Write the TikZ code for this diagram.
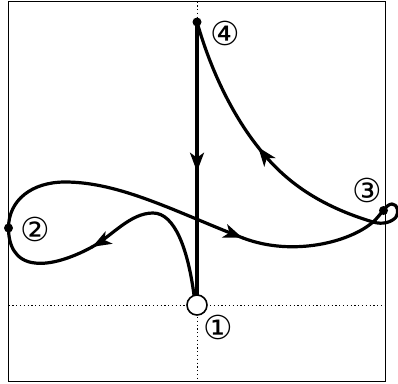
\documentclass[tikz,border=0pt]{standalone}
\usepackage{fontspec}
\newfontfamily\dv{DejaVu Sans}
\usetikzlibrary{decorations.markings,arrows.meta}
\tikzset{
  frameline/.style={line width=0.9pt},
  guide/.style={line width=0.8pt, dash pattern=on 1.2pt off 2.6pt},
  curve/.style={line width=3.2pt, line cap=round, line join=round},
  tipend/.style={postaction={decorate, decoration={markings,
     mark=at position 0.998 with {\arrow{Stealth[length=19pt,width=14pt,inset=5pt]}}}}},
  blackdot/.style={circle, fill=black, inner sep=0pt, minimum size=9pt},
  opendot/.style={circle, draw=black, fill=white, line width=1.6pt, inner sep=0pt, minimum size=20pt},
  lbl/.style={font=\dv\fontsize{33}{33}\selectfont, inner sep=0pt}
}
\begin{document}
\begin{tikzpicture}[x=1pt,y=-1pt]
\useasboundingbox (0,0) rectangle (398,383);
% frame and guides
\draw[frameline] (8.5,1.5) rectangle (385,381);
\coordinate (gl) at (8.5,305);
\coordinate (gr) at (385,305);
\coordinate (gt) at (197,1.5);
\coordinate (gb) at (197,381);
\draw[guide] (gl) -- (gr);
\draw[guide] (gt) -- (gb);
% key points
\coordinate (c1) at (197,305);
\coordinate (s1) at (194,295);
\coordinate (c2) at (8.5,228);
\coordinate (c3) at (383.5,210.5);
\coordinate (c4) at (197,22);
\coordinate (x3) at (373,222);
\coordinate (a1) at (92,247);
\coordinate (a2) at (243,238);
\coordinate (a3) at (258,147);
\coordinate (a4) at (197,172);
\coordinate (e1) at (197,296);
% 1 -> 2 (arrow on the way)
\draw[curve, tipend] (s1) .. controls (188,250) and (175,213) .. (153,213)
   .. controls (130,213) and (112,236) .. (a1);
\draw[curve] (a1) .. controls (72,258) and (50,265) .. (35,263)
   .. controls (15,261) and (8.5,245) .. (c2);
% 2 -> 3
\draw[curve, tipend] (c2) .. controls (8.5,200) and (32,182) .. (65,182)
   .. controls (120,182) and (176,212) .. (a2);
\draw[curve] (a2) .. controls (293,257) and (350,242) .. (x3)
   .. controls (381,215) and (386,204) .. (392,204)
   .. controls (398,204) and (399,213) .. (396,217)
   .. controls (392,222) and (383,225) .. (x3);
% 3 -> 4
\draw[curve, tipend] (x3) .. controls (320,206) and (285,182) .. (a3);
\draw[curve] (a3) .. controls (235,118) and (212,75) .. (c4);
% 4 -> 1
\draw[curve, tipend] (c4) -- (a4);
\draw[curve] (a4) -- (e1);
% markers
\node[opendot] (p1) at (c1) {};
\node[blackdot] (p2) at (c2) {};
\node[blackdot] (p3) at (c3) {};
\node[blackdot] (p4) at (c4) {};
% labels
\node[lbl] (l1) at (218,327) {①};
\node[lbl] (l2) at (35,229) {②};
\node[lbl] (l3) at (367,190) {③};
\node[lbl] (l4) at (225,33) {④};
\end{tikzpicture}
\end{document}
